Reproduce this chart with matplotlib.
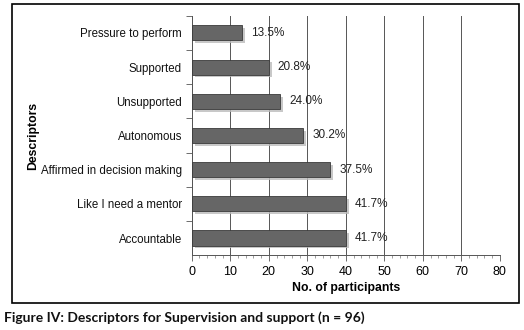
import matplotlib
matplotlib.use("Agg")
import matplotlib.pyplot as plt
import matplotlib.patheffects as pe
from matplotlib.patches import Rectangle
from matplotlib.ticker import MultipleLocator

# data (participants, n = 96)
descriptors = ["Pressure to perform", "Supported", "Unsupported", "Autonomous",
               "Affirmed in decision making", "Like I need a mentor", "Accountable"]
participants = [13, 20, 23, 29, 36, 40, 40]
percent_labels = ["13.5%", "20.8%", "24.0%", "30.2%", "37.5%", "41.7%", "41.7%"]

plt.rcParams['font.family'] = ['Liberation Sans', 'DejaVu Sans']

fig = plt.figure(figsize=(5.24, 3.30), dpi=100)
ax = fig.add_axes([0.366, 0.227, 0.588, 0.725])

ypos = list(range(len(descriptors)))
bars = ax.barh(ypos, participants, height=0.44, color='#666666',
               edgecolor='#3a3a3a', linewidth=0.6, zorder=3)
for b in bars:
    b.set_path_effects([pe.SimplePatchShadow(offset=(2, -2), shadow_rgbFace='#bbbbbb', alpha=0.8),
                        pe.Normal()])

for y, v, lab in zip(ypos, participants, percent_labels):
    ax.text(v + 2.3, y, lab, va='center', ha='left', fontsize=8.5, color='#222222')

ax.set_xlim(0, 80)
ax.set_ylim(len(descriptors) - 0.5, -0.5)
ax.set_yticks(ypos)
ax.set_yticklabels(descriptors, fontsize=8.3, color='#111111')
ax.tick_params(axis='y', length=0, pad=7)
ax.set_yticks([y + 0.5 for y in ypos[:-1]] + [-0.5], minor=True)
ax.tick_params(axis='y', which='minor', length=4, width=0.6, color='#555555')

ax.xaxis.set_major_locator(MultipleLocator(10))
ax.xaxis.set_minor_locator(MultipleLocator(2))
ax.tick_params(axis='x', labelsize=9, length=4, width=0.6, color='#555555', pad=4)
ax.tick_params(axis='x', which='minor', length=2, width=0.5, color='#777777')
ax.grid(axis='x', color='#555555', linewidth=0.7, zorder=0)

for s in ['top', 'right']:
    ax.spines[s].set_visible(False)
ax.spines['left'].set_color('#555555')
ax.spines['bottom'].set_color('#555555')
ax.spines['left'].set_linewidth(0.7)
ax.spines['bottom'].set_linewidth(0.7)

ax.set_xlabel('No. of participants', fontsize=8.8, fontweight='bold', labelpad=3)
ax.set_ylabel('Descriptors', fontsize=8.8, fontweight='bold')
ax.yaxis.set_label_coords(-0.497, 0.5)

# outer frame
fig.patches.append(Rectangle((12 / 524, 1 - 303 / 330), 507 / 524, 299 / 330,
                             transform=fig.transFigure, fill=False,
                             edgecolor='black', linewidth=1.2))

fig.text(4 / 524, 1 - 318 / 330, 'Figure IV: Descriptors for Supervision and support (n = 96)',
         fontsize=10, fontweight='bold', family=['Lato', 'DejaVu Sans'],
         va='center', ha='left', color='#111111')

fig.savefig('out.png', dpi=100)
